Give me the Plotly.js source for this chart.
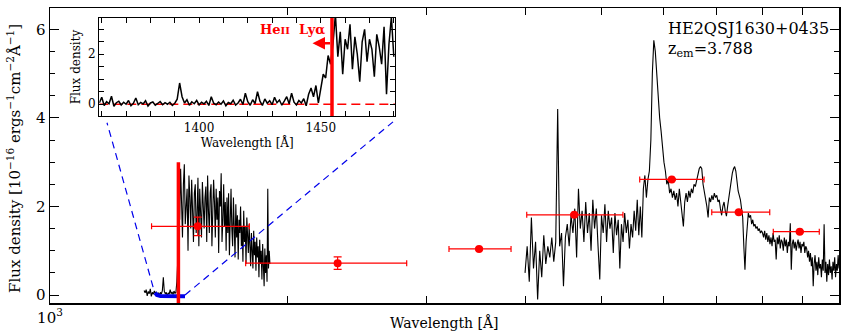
<!DOCTYPE html>
<html>
<head>
<meta charset="utf-8">
<script src="https://cdn.plot.ly/plotly-3.0.1.min.js"></script>
<style>html,body{margin:0;padding:0;background:#fff;}#chart{width:852px;height:332px;}</style>
</head>
<body>
<div id="chart"></div>
<script>
// ---------------- DATA ----------------
// UV (HST) spectrum: uniform grid 1316..1900 A, step 4 A
const uvStart = 1316, uvStep = 4;
const uvFlux = [
 0.10,0.05,0.12,-0.02,0.08,0.03,0.14,-0.03,0.06,0.02,
 0.09,0.04,0.07,0.01,0.05,-0.01,0.06,0.02,0.10,0.40,
 0.08,0.03,0.06,-0.02,0.05,0.02,0.12,0.03,0.07,0.01,
 0.09,0.04,0.06,0.30,0.80,2.60,1.70,2.85,2.10,1.30,
 2.50,2.95,1.60,1.90,2.40,1.00,2.70,2.20,1.50,2.60,
 1.90,1.20,2.30,2.50,1.40,1.80,2.65,1.10,2.40,2.00,
 1.30,2.55,2.10,1.50,2.20,2.45,1.20,2.70,1.90,1.40,
 2.30,2.50,1.10,1.80,2.60,2.10,1.30,2.40,1.70,2.20,
 0.95,2.35,2.00,2.75,1.20,1.70,2.50,1.55,2.10,1.00,
 2.20,1.40,2.30,0.90,1.85,2.40,1.50,1.10,2.20,1.60,
 0.85,2.05,1.30,1.80,0.80,1.70,1.40,2.00,1.10,1.55,
 0.75,1.90,1.20,1.55,0.70,1.75,1.30,0.95,1.60,1.05,
 0.65,1.40,1.10,0.60,1.45,0.90,1.20,0.55,1.30,0.85,
 1.10,0.40,1.25,0.70,1.00,0.35,1.15,0.80,0.20,1.05,
 0.50,0.90,0.30,2.40,0.60,1.00,0.70
];
// Optical spectrum: uniform grid 4000..10000 A, step 25 A
const optStart = 4000, optStep = 25;
const optFlux = [
 0.50,1.10,0.30,1.75,0.60,1.20,-0.10,1.00,0.40,1.35,
 0.70,1.10,0.85,1.30,0.75,1.20,4.20,1.10,1.40,0.20,
 1.30,1.60,1.10,1.80,1.40,1.95,0.85,2.40,1.50,1.90,
 1.20,2.10,1.40,1.85,1.00,2.15,1.50,1.95,1.10,0.35,
 1.80,1.40,2.05,1.20,1.90,1.50,1.75,0.95,1.85,1.35,
 1.70,0.60,1.60,1.20,1.85,1.40,1.70,1.05,1.60,1.30,
 1.90,1.45,2.15,1.35,2.00,1.30,2.40,2.70,2.20,2.60,
 2.80,3.50,5.00,5.75,5.50,4.90,4.40,4.00,3.70,3.30,
 3.00,2.80,2.50,2.60,2.30,2.40,2.20,2.35,2.15,2.30,
 2.00,2.40,2.10,1.90,1.55,2.10,2.30,2.10,2.35,2.20,
 2.40,2.30,2.50,2.45,2.60,2.70,2.85,2.90,2.85,2.50,
 2.35,2.20,2.00,1.75,2.20,2.10,2.25,2.15,2.30,2.20,
 2.25,2.10,2.15,1.95,1.80,2.00,2.10,1.90,1.78,2.00,
 2.20,2.40,2.55,2.75,2.85,2.90,2.80,2.55,2.35,2.25,
 2.15,1.95,1.75,1.10,0.57,1.20,1.60,1.85,1.75,1.80,
 1.60,1.70,1.55,1.60,1.50,1.55,1.45,1.50,1.40,1.45,
 1.40,1.30,1.45,1.25,1.40,1.20,1.35,1.15,1.30,1.10,
 1.40,1.20,1.25,0.80,1.30,1.15,1.35,1.05,1.25,1.20,
 1.00,1.30,1.10,1.25,0.95,1.20,1.10,1.62,0.57,1.15,
 1.25,1.05,1.20,1.00,1.15,1.25,1.05,1.20,0.95,1.15,
 1.10,1.20,0.95,1.10,1.05,0.85,1.00,0.75,0.95,0.65,
 0.85,0.20,0.70,0.90,0.55,0.75,0.45,0.85,0.60,0.70,
 0.40,0.80,0.55,1.60,0.50,0.75,0.30,0.70,0.45,0.80,
 0.50,0.65,0.35,0.75,0.55,0.85,0.40,0.70,0.55,0.90,
 0.60
];
// Inset (zoom) spectrum: grid 1359..1480 A, step 1 A
const insStart = 1359, insStep = 1;
const insFlux = [
 0.05,0.28,-0.05,0.10,0.02,0.32,-0.08,0.06,0.12,-0.03,
 0.08,0.00,0.15,-0.06,0.04,0.25,-0.02,0.07,0.01,0.14,
 -0.07,0.05,0.09,-0.04,0.03,0.11,-0.02,0.06,0.00,0.08,
 -0.05,0.04,0.20,0.85,0.30,0.05,0.18,-0.04,0.10,0.02,
 0.15,-0.03,0.08,0.01,0.12,-0.05,0.30,0.04,-0.02,0.09,
 0.00,0.13,-0.06,0.07,0.02,0.16,-0.03,0.05,0.20,-0.01,
 0.44,0.10,-0.04,0.18,0.03,0.50,0.12,-0.05,0.21,0.04,
 0.14,-0.02,0.28,0.06,0.17,-0.04,0.12,0.30,0.02,0.44,
 0.08,-0.03,0.15,0.05,0.22,-0.06,0.40,0.65,0.30,0.75,
 0.05,0.55,1.20,1.05,1.95,1.60,2.40,3.60,1.90,2.90,
 1.20,2.60,2.20,3.20,1.40,2.70,2.00,0.90,2.50,3.00,
 1.70,2.60,2.20,1.10,2.80,2.30,1.60,3.10,0.40,2.40,
 3.50,1.90
];
// Zero-flux level of the zoomed region (blue)
const zeroWave = [1359, 1366, 1380, 1420, 1454, 1483];
const zeroFlux = [0.05, 0.00, -0.02, -0.02, -0.03, -0.03];
// Photometric points
const photWave = [1539, 2315, 3498, 4618, 6138, 7464, 8918];
const photLo   = [1345, 1770, 3204, 4020, 5590, 6898, 8255];
const photHi   = [1789, 2832, 3840, 5323, 6745, 8170, 9441];
const photFlux = [1.55, 0.72, 1.04, 1.81, 2.61, 1.87, 1.43];
const photErr  = [0.21, 0.14, 0.02, 0.02, 0.02, 0.02, 0.02];
// HeII Lya edge
const heEdge = 1454.6;
const xLabelVals = [1000, 10000];
const xLabelText = ['10<sup>3</sup>', '10<sup>4</sup>'];
const xMinorVals = [2000,3000,4000,5000,6000,7000,8000,9000];

// ---------------- BUILD ----------------
const grid = (s, d, n) => Array.from({length:n}, (_, i) => s + d*i);
const uvWave = grid(uvStart, uvStep, uvFlux.length);
const optWave = grid(optStart, optStep, optFlux.length);
const insWave = grid(insStart, insStep, insFlux.length);

const FONT = 'DejaVu Serif, Liberation Serif, serif';
const RED = 'rgb(255,0,0)';
const BLUE = 'rgb(0,0,235)';

const mainY = [-0.18, 6.48];
const insX = [1359, 1480.5];
const insY = [-0.47, 3.45];
const insDomX = [0.0625, 0.4373];
const insDomY = [0.634, 0.966];

// connector endpoints (zoomed region -> inset corners), in main data units
const connLeft = {x:[1351, 1181], y:[0.18, 3.89]};
const connRight = {x:[1483, 2721], y:[0.0, 3.91]};

const traces = [
  {x: uvWave, y: uvFlux, type:'scatter', mode:'lines', line:{color:'black', width:1.1}, xaxis:'x', yaxis:'y', hoverinfo:'skip'},
  {x: optWave, y: optFlux, type:'scatter', mode:'lines', line:{color:'black', width:1.1}, xaxis:'x', yaxis:'y', hoverinfo:'skip'},
  {x: zeroWave, y: zeroFlux, type:'scatter', mode:'lines', line:{color:BLUE, width:4}, xaxis:'x', yaxis:'y'},
  {x: connLeft.x, y: connLeft.y, type:'scatter', mode:'lines', line:{color:BLUE, width:1.2, dash:'7px,5px'}, xaxis:'x', yaxis:'y'},
  {x: connRight.x, y: connRight.y, type:'scatter', mode:'lines', line:{color:BLUE, width:1.2, dash:'7px,5px'}, xaxis:'x', yaxis:'y'},
  {x: [heEdge, heEdge], y: [mainY[0], 3.0], type:'scatter', mode:'lines', line:{color:RED, width:3.5}, xaxis:'x', yaxis:'y'},
  {x: photWave, y: photFlux, type:'scatter', mode:'markers',
   marker:{color:RED, size:8},
   error_x:{type:'data', symmetric:false,
     array: photHi.map((h,i)=>h-photWave[i]),
     arrayminus: photLo.map((l,i)=>photWave[i]-l),
     color:RED, thickness:1.2, width:3},
   error_y:{type:'data', array: photErr, color:RED, thickness:1.2, width:4},
   xaxis:'x', yaxis:'y'},
  // inset
  {x: insX, y: [0,0], type:'scatter', mode:'lines', line:{color:RED, width:1.5, dash:'9px,5px'}, xaxis:'x2', yaxis:'y2'},
  {x: insWave, y: insFlux, type:'scatter', mode:'lines', line:{color:'black', width:1.5}, xaxis:'x2', yaxis:'y2'},
  {x: [heEdge, heEdge], y: insY, type:'scatter', mode:'lines', line:{color:RED, width:3.5}, xaxis:'x2', yaxis:'y2'}
];

const axBase = {showgrid:false, zeroline:false, showline:true, linecolor:'black', linewidth:1.5,
  mirror:'ticks', ticks:'inside', tickcolor:'black', tickwidth:1};

const layout = {
  width:852, height:332,
  margin:{l:50, r:13, t:8, b:29},
  paper_bgcolor:'white', plot_bgcolor:'white',
  showlegend:false,
  font:{family:FONT, color:'black'},
  xaxis: Object.assign({}, axBase, {
    type:'log', range:[3, 4], tickmode:'array', tickvals:xLabelVals, ticktext:xLabelText, ticklen:7,
    minor:{tickmode:'array', tickvals:xMinorVals, ticklen:7, ticks:'inside', tickcolor:'black', showgrid:false},
    tickfont:{size:15, family:FONT}, domain:[0,1], anchor:'y'
  }),
  yaxis: Object.assign({}, axBase, {
    range:mainY, tick0:0, dtick:2, ticklen:9,
    minor:{dtick:0.5, ticklen:5, ticks:'inside', tickcolor:'black', showgrid:false},
    tickfont:{size:15, family:FONT}, domain:[0,1], anchor:'x'
  }),
  xaxis2: Object.assign({}, axBase, {
    range:insX, tick0:0, dtick:50, ticklen:5, linewidth:1.3,
    minor:{dtick:10, ticklen:5, ticks:'inside', tickcolor:'black', showgrid:false},
    tickfont:{size:12, family:FONT}, domain:insDomX, anchor:'y2',
    title:{text:'Wavelength [Å]', font:{size:12, family:FONT}, standoff:2}
  }),
  yaxis2: Object.assign({}, axBase, {
    range:insY, tick0:0, dtick:2, ticklen:5, linewidth:1.3,
    minor:{dtick:0.5, ticklen:5, ticks:'inside', tickcolor:'black', showgrid:false},
    tickfont:{size:12, family:FONT}, domain:insDomY, anchor:'x2',
    title:{text:'Flux density', font:{size:12, family:FONT}, standoff:4}
  }),
  annotations:[
    {xref:'paper', yref:'paper', x:0.5, y:-0.066, xanchor:'center', yanchor:'middle', showarrow:false, borderpad:0,
     text:'Wavelength [Å]', font:{size:14, family:FONT}},
    {xref:'paper', yref:'paper', x:-0.045, y:0.49, xanchor:'center', yanchor:'middle', showarrow:false, textangle:-90,
     text:'Flux density [10<sup>−16</sup> ergs<sup>−1</sup>cm<sup>−2</sup>Å<sup>−1</sup>]', font:{size:15, family:FONT}},
    {xref:'paper', yref:'paper', x:0.781, y:0.932, xanchor:'left', yanchor:'middle', showarrow:false,
     text:'HE2QSJ1630+0435', font:{size:16, family:FONT}},
    {xref:'paper', yref:'paper', x:0.781, y:0.858, xanchor:'left', yanchor:'middle', showarrow:false,
     text:'z<sub>em</sub>=3.788', font:{size:16, family:FONT}},
    {xref:'x2', yref:'y2', x:1452.6, y:3.0, xanchor:'right', yanchor:'middle', showarrow:false,
     text:'<b>He<span style="font-size:10px">II</span>  Lyα</b>', font:{size:13, family:FONT, color:RED}},
    {xref:'x2', yref:'y2', x:1446.6, y:2.44, axref:'x2', ayref:'y2', ax:1454.4, ay:2.44,
     text:'', showarrow:true, arrowhead:2, arrowsize:1, arrowwidth:2.5, arrowcolor:RED, standoff:0, startstandoff:0}
  ]
};

Plotly.newPlot('chart', traces, layout, {staticPlot:true, displayModeBar:false});
</script>
</body>
</html>
